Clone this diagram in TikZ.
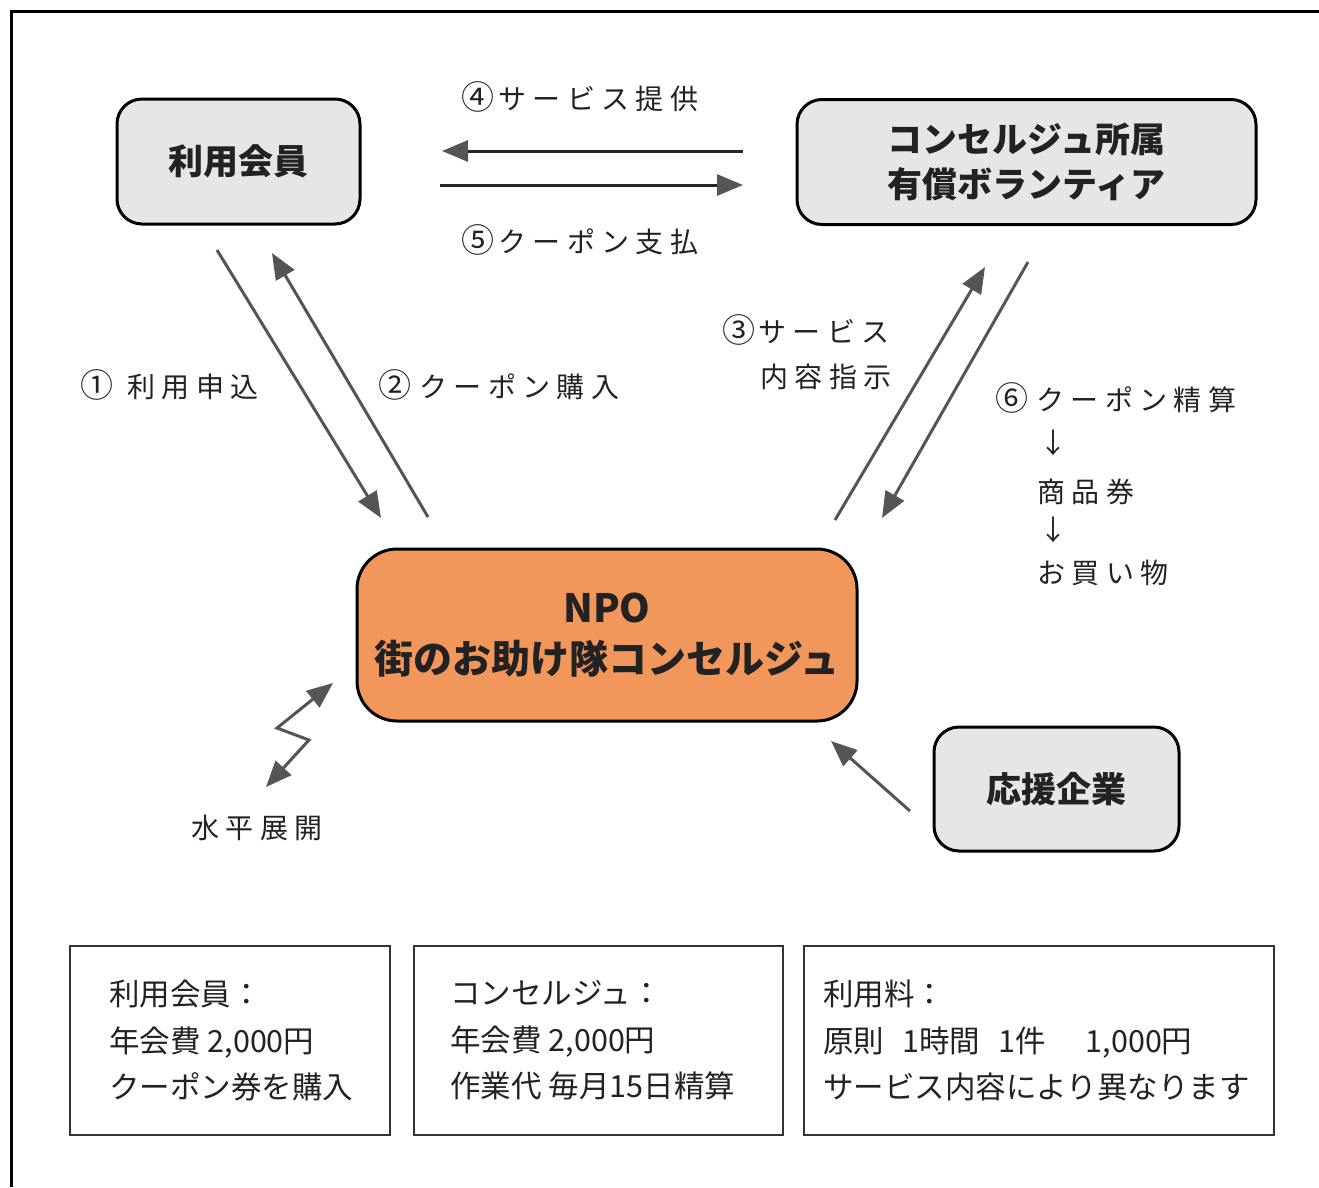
\documentclass[tikz,border=0pt]{standalone}
\usepackage{fontspec}
\setmainfont{Noto Sans CJK JP}
\usetikzlibrary{arrows.meta}
\definecolor{boxgray}{HTML}{E6E6E6}
\definecolor{npoorange}{HTML}{F1975C}
\definecolor{arrgray}{HTML}{555555}
\definecolor{txt}{HTML}{222222}
\newcommand{\cn}[1]{{\fontsize{33}{40}\selectfont #1}}
\tikzset{
  rbox/.style={draw=black, line width=3pt, fill=boxgray, rounded corners=25pt,
    align=center, inner sep=0pt, text=txt},
  titlefont/.style={font=\fontsize{35}{45}\selectfont\bfseries},
  lbl/.style={font=\fontsize{28}{40}\selectfont\addfontfeatures{LetterSpace=23}, inner sep=0pt, text=txt},
  infobox/.style={draw=black!80, line width=1.6pt, inner sep=0pt, minimum height=189pt},
  btext/.style={font=\fontsize{30.5}{46.5}\selectfont, align=left, inner sep=0pt, anchor=west, text=txt},
  arr/.style={draw=arrgray, line width=3pt, -{Triangle[length=26pt,width=21pt]}},
  harr/.style={draw=black!85, line width=3pt, -{Triangle[length=26pt,width=21pt,color=arrgray]}},
  zarr/.style={draw=arrgray, line width=3pt, {Triangle[length=26pt,width=21pt]}-{Triangle[length=26pt,width=21pt]}}
}
\begin{document}
\begin{tikzpicture}[x=1pt,y=-1pt]
\useasboundingbox (0,0) rectangle (1319,1187);
% outer frame (cropped at right and bottom)
\draw[line width=3pt] (1319,11) -- (11,11) -- (11,1187);

% main nodes
\node[rbox, titlefont, minimum width=243pt, minimum height=125pt] (member) at (238.5,161.5) {利用会員};
\node[rbox, titlefont, minimum width=459pt, minimum height=125pt] (vol) at (1026.5,162) {コンセルジュ所属\\有償ボランティア};
\node[rbox, fill=npoorange, rounded corners=40pt, font=\fontsize{39}{51}\selectfont\bfseries,
      minimum width=500pt, minimum height=172pt] (npo) at (607,635) {NPO\\街のお助け隊コンセルジュ};
\node[rbox, titlefont, minimum width=245pt, minimum height=124pt] (support) at (1056.5,789) {応援企業};

% connector end points
\coordinate (a4s) at (743,151); \coordinate (a4e) at (442,151);
\coordinate (a5s) at (440,185); \coordinate (a5e) at (743,185);
\coordinate (a1s) at (217,250); \coordinate (a1e) at (381,518);
\coordinate (a2s) at (428,517); \coordinate (a2e) at (272,253);
\coordinate (a3s) at (835,520); \coordinate (a3e) at (985,267);
\coordinate (a6s) at (1028,262); \coordinate (a6e) at (882,518);
\coordinate (a7s) at (910,811); \coordinate (a7e) at (831,741);
\coordinate (zlow) at (266,787); \coordinate (zb1) at (309,740);
\coordinate (zb2) at (277,728); \coordinate (zup) at (333,683);

\draw[harr] (a4s) -- (a4e);
\draw[harr] (a5s) -- (a5e);
\draw[arr] (a1s) -- (a1e);
\draw[arr] (a2s) -- (a2e);
\draw[arr] (a3s) -- (a3e);
\draw[arr] (a6s) -- (a6e);
\draw[arr] (a7s) -- (a7e);
\draw[zarr] (zlow) -- (zb1) -- (zb2) -- (zup);

% labels
\node[lbl, anchor=west] (l4) at (461,97) {\cn{④}\hspace{4pt}サービス提供};
\node[lbl, anchor=west] (l5) at (461,240) {\cn{⑤}\hspace{4pt}クーポン支払};
\node[lbl, anchor=west] (l1) at (80,385) {\cn{①}\hspace{14pt}利用申込};
\node[lbl, anchor=west] (l2) at (378,385) {\cn{②}\hspace{8pt}クーポン購入};
\node[lbl, anchor=west] (l3a) at (722,330) {\cn{③}\hspace{3pt}サービス};
\node[lbl, anchor=west] (l3b) at (760,377) {内容指示};
\node[lbl, anchor=west] (l6) at (995,398) {\cn{⑥}\hspace{8pt}クーポン精算};
\node[lbl, anchor=west] (d1) at (1039,443) {↓};
\node[lbl, anchor=west] (l6b) at (1037,492) {商品券};
\node[lbl, anchor=west] (d2) at (1039,530) {↓};
\node[lbl, anchor=west] (l6c) at (1037,573) {お買い物};
\node[lbl, anchor=west] (lh) at (191,828) {水平展開};

% info boxes
\node[infobox, minimum width=320pt] (b1) at (230,1040.5) {};
\node[infobox, minimum width=369pt] (b2) at (598.5,1040.5) {};
\node[infobox, minimum width=470pt] (b3) at (1039,1040.5) {};
\node[btext] (t1) at ([xshift=40pt]b1.west) {利用会員：\\年会費 2,000円\\クーポン券を購入};
\node[btext] (t2) at ([xshift=37pt]b2.west) {コンセルジュ：\\年会費 2,000円\\作業代 毎月15日精算};
\node[btext] (t3) at ([xshift=20pt]b3.west) {利用料：\\原則\hspace{18pt}1時間\hspace{18pt}1件\hspace{40pt}1,000円\\サービス内容により異なります};
\end{tikzpicture}
\end{document}
